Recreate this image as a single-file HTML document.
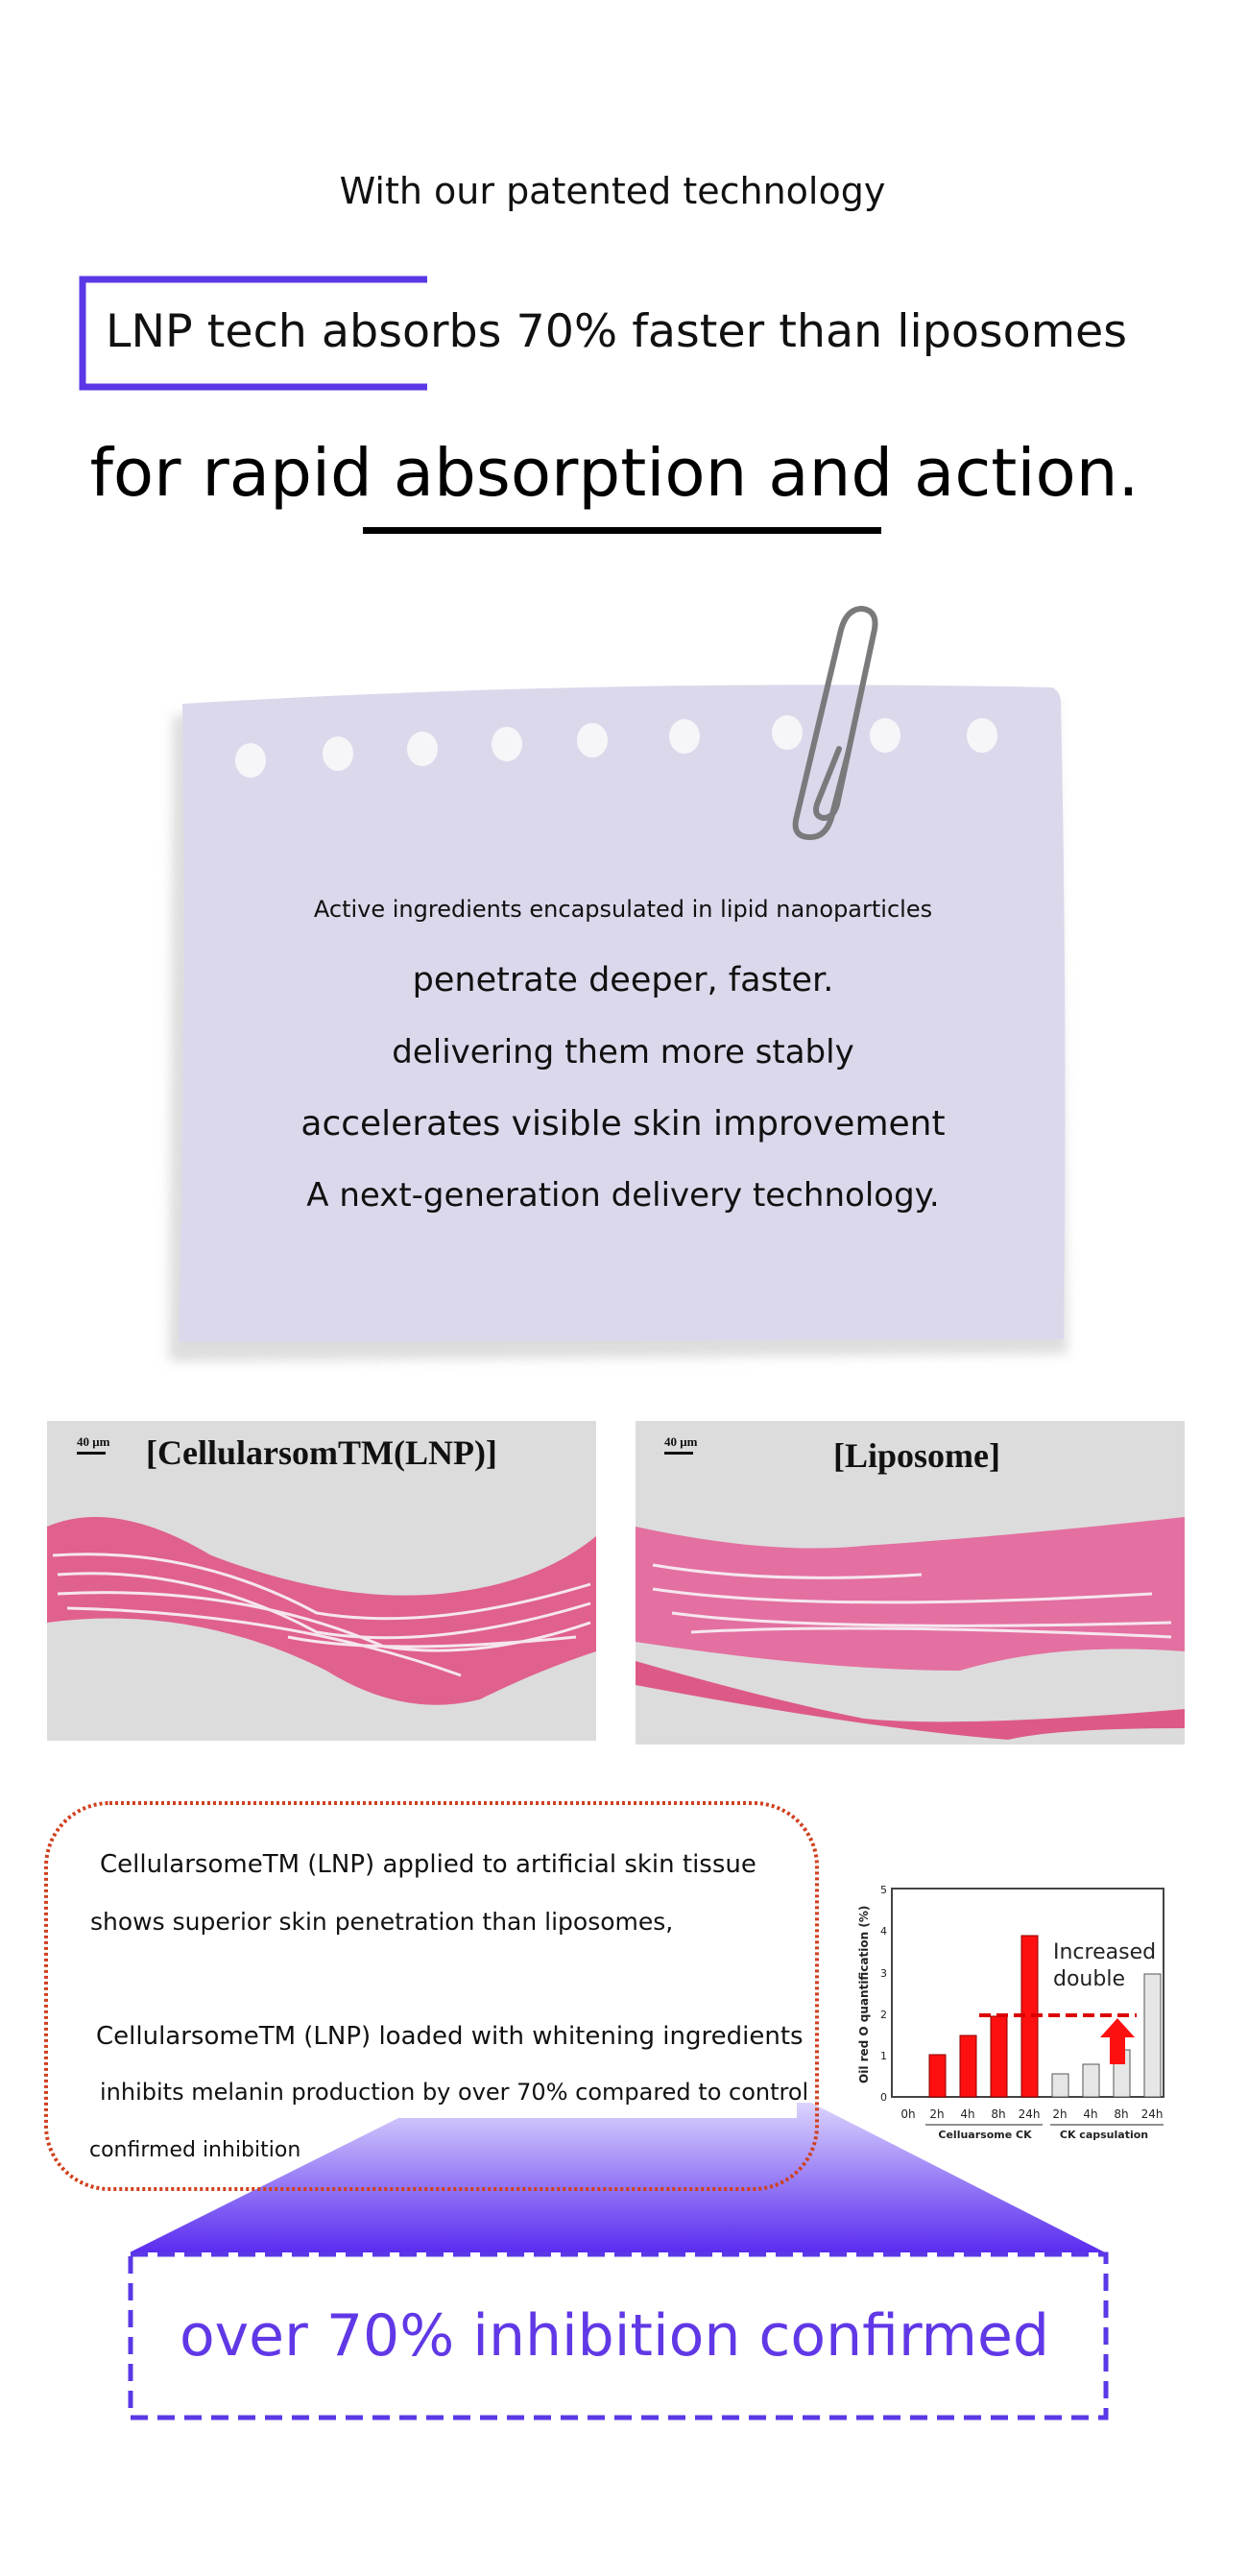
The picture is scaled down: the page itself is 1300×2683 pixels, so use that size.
<!DOCTYPE html>
<html><head><meta charset="utf-8"><style>
html,body{margin:0;padding:0;background:#fff;}
svg{display:block;}
text{font-family:"DejaVu Sans","Liberation Sans",sans-serif;}
</style></head><body>
<svg width="1300" height="2683" viewBox="0 0 1300 2683" xmlns="http://www.w3.org/2000/svg">
<defs>
<linearGradient id="tg" x1="0" y1="0" x2="0" y2="1">
<stop offset="0" stop-color="#dcd4fd"/><stop offset="0.5" stop-color="#9a80f6"/><stop offset="1" stop-color="#5a2cf0"/>
</linearGradient>
<filter id="sh" x="-5%" y="-5%" width="110%" height="110%"><feGaussianBlur stdDeviation="6"/></filter>
</defs>

<text x="638" y="212" font-size="38" text-anchor="middle" fill="#111">With our patented technology</text>

<path d="M445 291 H86 V403 H445" fill="none" stroke="#5b38e6" stroke-width="7"/>
<text x="642" y="361" font-size="47.5" text-anchor="middle" fill="#111">LNP tech absorbs 70% faster than liposomes</text>

<text x="640" y="516" font-size="69" text-anchor="middle" fill="#000">for rapid absorption and action.</text>
<rect x="378" y="549" width="540" height="7" fill="#000"/>

<!-- note paper -->
<path d="M180 745 L1100 727 L1112 1410 L176 1418 Z" fill="#bbb" opacity="0.5" filter="url(#sh)"/>
<path d="M190 733 Q640 706 1096 716 Q1104 720 1105 730 Q1112 1050 1108 1395 L186 1398 Q194 1050 190 733 Z" fill="#dcd8ec"/>
<g fill="#f6f6f8">
<ellipse cx="261" cy="792" rx="16" ry="18"/>
<ellipse cx="352" cy="785" rx="16" ry="18"/>
<ellipse cx="440" cy="780" rx="16" ry="18"/>
<ellipse cx="528" cy="775" rx="16" ry="18"/>
<ellipse cx="617" cy="771" rx="16" ry="18"/>
<ellipse cx="713" cy="767" rx="16" ry="18"/>
<ellipse cx="820" cy="763" rx="16" ry="18"/>
<ellipse cx="922" cy="766" rx="16" ry="18"/>
<ellipse cx="1023" cy="766" rx="16" ry="18"/>
</g>
<path d="M874 780 L852 835 Q846 850 858 852 Q868 852 872 838 L910 660 Q916 636 898 634 Q882 634 876 656 L830 850 Q824 872 844 872 Q860 872 866 852 L884 782" fill="none" stroke="#7a7a7c" stroke-width="6" stroke-linecap="round" stroke-linejoin="round"/>

<g text-anchor="middle" fill="#111">
<text x="649" y="955" font-size="24">Active ingredients encapsulated in lipid nanoparticles</text>
<text x="649" y="1032" font-size="35">penetrate deeper, faster.</text>
<text x="649" y="1107" font-size="34">delivering them more stably</text>
<text x="649" y="1182" font-size="36">accelerates visible skin improvement</text>
<text x="649" y="1256" font-size="34">A next-generation delivery technology.</text>
</g>

<!-- tissue images -->
<rect x="49" y="1480" width="572" height="333" fill="#dcdcdc"/>
<path d="M49 1590 Q120 1560 220 1620 Q350 1670 460 1660 Q560 1650 621 1600 L621 1720 Q560 1740 500 1770 Q420 1790 340 1740 Q200 1670 49 1690 Z" fill="#e0608e"/>
<g stroke="#f6e6ee" stroke-width="3" fill="none">
<path d="M55 1620 Q200 1610 330 1680 Q450 1700 615 1650"/>
<path d="M60 1640 Q200 1630 330 1700 Q450 1720 615 1670"/>
<path d="M60 1660 Q250 1650 400 1715 Q500 1730 615 1690"/>
<path d="M70 1675 Q300 1680 480 1745"/>
<path d="M300 1705 Q400 1725 600 1705"/>
</g>
<rect x="662" y="1480" width="572" height="337" fill="#dcdcdc"/>
<path d="M662 1590 Q800 1620 900 1610 Q1050 1600 1234 1580 L1234 1720 Q1100 1710 1000 1740 Q860 1740 662 1710 Z" fill="#e370a0"/>
<path d="M662 1730 Q800 1770 900 1790 Q1000 1800 1234 1780 L1234 1800 Q1100 1800 1050 1812 Q900 1800 662 1755 Z" fill="#dd5a88"/>
<g stroke="#f6e6ee" stroke-width="3" fill="none">
<path d="M680 1630 Q800 1650 960 1640"/>
<path d="M680 1655 Q850 1680 1200 1660"/>
<path d="M700 1680 Q850 1700 1220 1690"/>
<path d="M720 1700 Q900 1690 1220 1705"/>
</g>
<g font-weight="bold" fill="#111">
<text x="152" y="1525" font-size="36" style="font-family:'Liberation Serif',serif">[CellularsomTM(LNP)]</text>
<text x="868" y="1528" font-size="36" style="font-family:'Liberation Serif',serif">[Liposome]</text>
<text x="80" y="1506" font-size="13" style="font-family:'Liberation Serif',serif">40 μm</text>
<text x="692" y="1506" font-size="13" style="font-family:'Liberation Serif',serif">40 μm</text>
</g>
<rect x="80" y="1512" width="30" height="3" fill="#111"/>
<rect x="692" y="1512" width="30" height="3" fill="#111"/>

<!-- trapezoid -->
<path d="M415 2206 L830 2206 L830 2190 L845 2190 L1151 2346 L135 2346 Z" fill="url(#tg)"/>

<!-- dotted box -->
<rect x="48" y="1878" width="803" height="402" rx="66" fill="none" stroke="#d0401e" stroke-width="4" stroke-dasharray="3 3"/>
<g fill="#111">
<text x="104" y="1950" font-size="26">CellularsomeTM (LNP) applied to artificial skin tissue</text>
<text x="94" y="2010" font-size="25">shows superior skin penetration than liposomes,</text>
<text x="100" y="2129" font-size="26">CellularsomeTM (LNP) loaded with whitening ingredients</text>
<text x="104" y="2187" font-size="24">inhibits melanin production by over 70% compared to control</text>
<text x="93" y="2246" font-size="22">confirmed inhibition</text>
</g>

<!-- chart -->
<g>
<rect x="929" y="1967" width="283" height="217" fill="#fff" stroke="#444" stroke-width="2"/>
<g fill="#ff1010" stroke="#800" stroke-width="1">
<rect x="968" y="2140" width="17" height="44"/>
<rect x="1000" y="2120" width="17" height="64"/>
<rect x="1032" y="2100" width="17" height="84"/>
<rect x="1064" y="2016" width="17" height="168"/>
</g>
<g fill="#e6e6e6" stroke="#555" stroke-width="1">
<rect x="1096" y="2160" width="17" height="24"/>
<rect x="1128" y="2150" width="17" height="34"/>
<rect x="1160" y="2135" width="17" height="49"/>
<rect x="1192" y="2056" width="17" height="128"/>
</g>
<line x1="1020" y1="2099" x2="1184" y2="2099" stroke="#d00" stroke-width="4" stroke-dasharray="12 6"/>
<path d="M1156 2150 V2122 H1146 L1164 2102 L1182 2122 H1172 V2150 Z" fill="#ff1010"/>
<text x="1097" y="2040" font-size="22" fill="#222">Increased</text>
<text x="1097" y="2068" font-size="22" fill="#222">double</text>
<g font-size="11" fill="#222" text-anchor="end">
<text x="924" y="1972">5</text><text x="924" y="2015">4</text><text x="924" y="2059">3</text>
<text x="924" y="2102">2</text><text x="924" y="2145">1</text><text x="924" y="2188">0</text>
</g>
<text transform="translate(904 2170) rotate(-90)" font-size="12" font-weight="bold" fill="#222">Oil red O quantification (%)</text>
<g font-size="12" fill="#222" text-anchor="middle">
<text x="946" y="2206">0h</text><text x="976" y="2206">2h</text><text x="1008" y="2206">4h</text>
<text x="1040" y="2206">8h</text><text x="1072" y="2206">24h</text><text x="1104" y="2206">2h</text>
<text x="1136" y="2206">4h</text><text x="1168" y="2206">8h</text><text x="1200" y="2206">24h</text>
</g>
<line x1="964" y1="2213" x2="1086" y2="2213" stroke="#222"/>
<line x1="1094" y1="2213" x2="1212" y2="2213" stroke="#222"/>
<text x="1026" y="2227" font-size="11" font-weight="bold" text-anchor="middle" fill="#222">Celluarsome CK</text>
<text x="1150" y="2227" font-size="11" font-weight="bold" text-anchor="middle" fill="#222">CK capsulation</text>
</g>

<!-- dashed box -->
<rect x="136" y="2348" width="1016" height="170" fill="#fff" stroke="#5b38e6" stroke-width="5" stroke-dasharray="18 10"/>
<text x="640" y="2453" font-size="60" text-anchor="middle" fill="#6038e6">over 70% inhibition confirmed</text>
</svg>
</body></html>
